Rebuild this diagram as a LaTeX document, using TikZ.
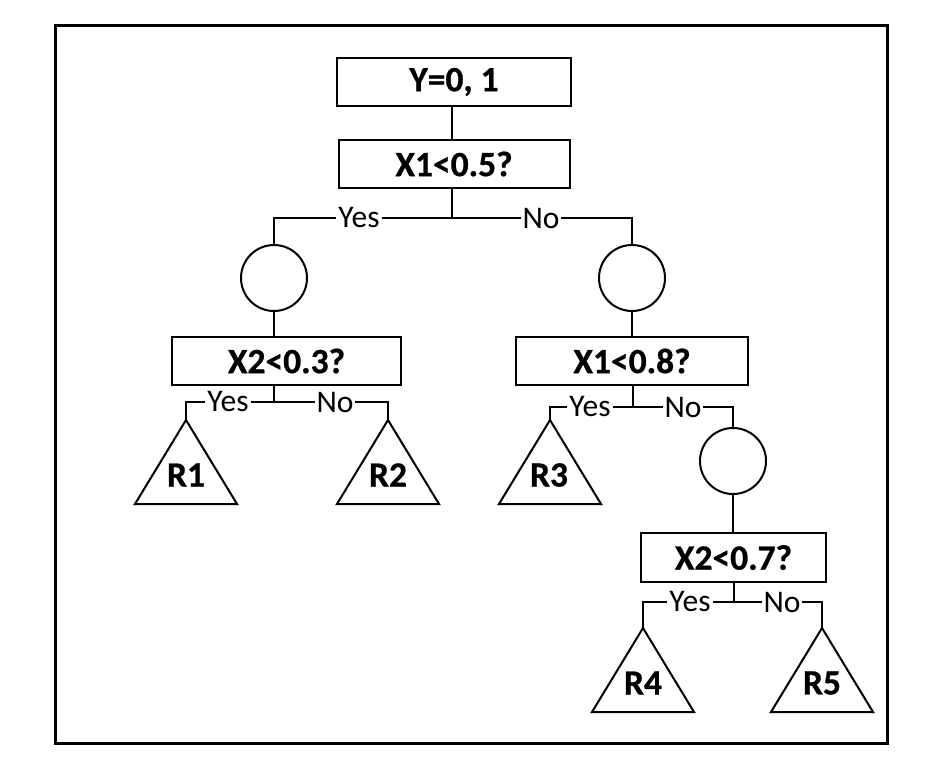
\documentclass[tikz,border=0pt]{standalone}
\usepackage{fontspec}
\setmainfont{Carlito}[BoldFeatures={FakeBold=0.7}]
\begin{document}
\begin{tikzpicture}[x=1pt,y=-1pt]
\tikzset{
 box/.style={draw, line width=2pt, minimum height=48pt, inner sep=0pt, font=\fontsize{35.5}{40}\selectfont\bfseries},
 circ/.style={draw, circle, line width=2pt, minimum size=66pt, inner sep=0pt},
 lbl/.style={fill=white, inner xsep=2pt, inner ysep=0pt, font=\fontsize{31.5}{35}\selectfont},
 leaf/.style={font=\fontsize{35.5}{40}\selectfont\bfseries, inner sep=0pt},
 conn/.style={line width=2pt},
 tri/.style={line width=2pt, line join=miter},
}
\useasboundingbox (0,0) rectangle (940,774);
\fill[white] (0,0) rectangle (940,774);
\draw[line width=3pt] (55,25) rectangle (887,743);

% boxes
\node[box, minimum width=234pt] (b1) at (454,82) {Y=0, 1};
\node[box, minimum width=231pt] (b2) at (454,164) {X1<0.5?};
\node[box, minimum width=229pt] (b3) at (286.5,361) {X2<0.3?};
\node[box, minimum width=232pt] (b4) at (632,361) {X1<0.8?};
\node[box, minimum width=185pt, minimum height=49pt] (b5) at (733.5,557.5) {X2<0.7?};

% circles
\node[circ] (c1) at (274,278) {};
\node[circ] (c2) at (632,278) {};
\node[circ] (c3) at (733,461) {};

% triangle apexes
\coordinate (t1) at (186,420);
\coordinate (t2) at (388,420);
\coordinate (t3) at (550,420);
\coordinate (t4) at (643,628);
\coordinate (t5) at (822,628);
\foreach \t in {t1,t2,t3,t4,t5}{
  \draw[tri] (\t) -- ++(-51,84) -- ++(102,0) -- cycle;
}
\node[leaf] (r1) at (186,475) {R1};
\node[leaf] (r2) at (388,475) {R2};
\node[leaf] (r3) at (549,475) {R3};
\node[leaf] (r4) at (643,683) {R4};
\node[leaf] (r5) at (822,683) {R5};

% split points
\coordinate (s1) at (452,218);
\coordinate (s3) at (274,402);
\coordinate (s4) at (633,407);
\coordinate (s5) at (734,602);

% connectors
\draw[conn] (b1.south -| s1) -- (b2.north -| s1);
\draw[conn] (b2.south -| s1) -- (s1);
\draw[conn] (c1.north) |- (s1) -| (c2.north);
\draw[conn] (c1.south) -- (c1.south |- b3.north);
\draw[conn] (c2.south) -- (c2.south |- b4.north);
\draw[conn] (b3.south -| s3) -- (s3);
\draw[conn] (t1) |- (s3) -| (t2);
\draw[conn] (b4.south -| s4) -- (s4);
\draw[conn] (t3) |- (s4) -| (c3.north);
\draw[conn] (c3.south) -- (c3.south |- b5.north);
\draw[conn] (b5.south -| s5) -- (s5);
\draw[conn] (t4) |- (s5) -| (t5);

% labels
\node[lbl] (l1y) at (359,218) {Yes};
\node[lbl] (l1n) at (541,218) {No};
\node[lbl] (l3y) at (228,402) {Yes};
\node[lbl] (l3n) at (335,402) {No};
\node[lbl] (l4y) at (590,407) {Yes};
\node[lbl] (l4n) at (683,407) {No};
\node[lbl] (l5y) at (690,602) {Yes};
\node[lbl] (l5n) at (782,602) {No};
\end{tikzpicture}
\end{document}
